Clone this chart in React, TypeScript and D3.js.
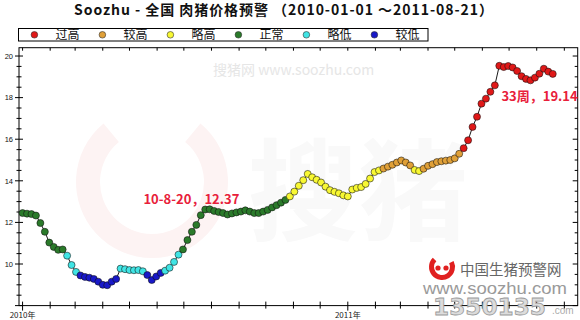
import React from 'react';
import * as d3 from 'd3';

// ---------- data ----------
const startDate = '2010-01-01';
const stepDays = 5;
const prices: number[] = [
  12.45, 12.42, 12.40, 12.33, 11.97, 11.55, 11.03, 10.82, 10.68, 10.70,
  10.40, 9.95, 9.62, 9.45, 9.38, 9.34, 9.28, 9.15, 9.00, 8.98,
  9.15, 9.28, 9.78, 9.75, 9.71, 9.70, 9.71, 9.65, 9.47, 9.23,
  9.40, 9.57, 9.68, 9.82, 10.10, 10.45, 10.70, 11.15, 11.55, 11.88,
  12.35, 12.62, 12.63, 12.55, 12.50, 12.45, 12.38, 12.43, 12.48, 12.52,
  12.58, 12.52, 12.45, 12.45, 12.52, 12.60, 12.72, 12.83, 12.95, 13.08,
  13.25, 13.48, 13.76, 14.03, 14.33, 14.17, 14.05, 13.92, 13.72, 13.55,
  13.47, 13.40, 13.30, 13.25, 13.58, 13.66, 13.70, 13.85, 14.11, 14.42,
  14.50, 14.59, 14.68, 14.77, 14.88, 14.98, 14.88, 14.74, 14.52, 14.47,
  14.58, 14.72, 14.80, 14.90, 14.94, 14.97, 15.00, 15.08, 15.30, 15.57,
  15.95, 16.59, 17.08, 17.71, 17.95, 18.28, 18.59, 19.53, 19.47, 19.52,
  19.45, 19.28, 19.03, 18.90, 18.83, 18.96, 19.15, 19.39, 19.25, 19.14,
];
const levelNames = ['过高', '较高', '略高', '正常', '略低', '较低'];
const levelColors = ['#e01818', '#e0a038', '#f8f832', '#2a7a2a', '#40e4e4', '#1818c8'];
const levelThresholds = [15.5, 14.55, 13.1, 10.5, 9.6, -Infinity];
const yTickValues = [10, 12, 14, 16, 18, 20];
const yearLabelSuffix = '年';
const annotationDates = ['2010-08-20', '2011-08-21'];
const annotationValues = [12.37, 19.14];
const annotationTexts = ['10-8-20，12.37', '33周，19.14'];
const titleText = 'Soozhu - 全国 肉猪价格预警 （2010-01-01 ～2011-08-21）';

// ---------- layout ----------
const W = 580, H = 320;
const L = 19, R = 577.7, T = 47.7, B = 305.6;
const FONT = '"Liberation Sans", Arial, "Noto Sans CJK SC", sans-serif';
const CJK = '"Noto Sans CJK SC", "Liberation Sans", sans-serif';

const parse = d3.timeParse('%Y-%m-%d');

function levelOf(v: number) {
  for (let i = 0; i < levelThresholds.length; i++) if (v >= levelThresholds[i]) return i;
  return levelThresholds.length - 1;
}

export default function App() {
  const start = parse(startDate)!;
  const data = prices.map((v, i) => ({ date: d3.timeDay.offset(start, i * stepDays), v }));

  const x = d3.scaleTime()
    .domain([d3.timeDay.offset(start, -4), d3.timeDay.offset(start, 623)])
    .range([L, R]);
  const y = d3.scaleLinear().domain([8, 20.4]).range([B, T]);

  const months = d3.timeMonth.range(x.domain()[0], x.domain()[1]);
  const years = d3.timeYear.range(x.domain()[0], x.domain()[1]);
  const minorY = d3.range(8, 20.41, 0.5);

  const line = d3.line<{ date: Date; v: number }>().x(d => x(d.date)).y(d => y(d.v));

  const legendX0 = 34.4, legendDX = 68;

  const ann = annotationDates.map((d, i) => ({
    px: x(parse(d)!), py: y(annotationValues[i]), text: annotationTexts[i],
  }));

  const ring = d3.arc()({ innerRadius: 52, outerRadius: 76, startAngle: Math.PI * 0.22, endAngle: Math.PI * 1.78 }) as string;
  const logoArc = d3.arc()({ innerRadius: 8, outerRadius: 13, startAngle: Math.PI * 0.35, endAngle: Math.PI * 1.75 }) as string;

  return (
    <svg width={W} height={H} style={{ position: 'absolute', left: 0, top: 0, background: '#fff' }}
      xmlns="http://www.w3.org/2000/svg">
      <rect x={0} y={0} width={W} height={H} fill="#fff" />
      {/* title */}
      <text x={74} y={15} fontFamily={CJK} fontWeight="bold" fontSize={14} fill="#111"
        textLength={419} lengthAdjust="spacing">
        {titleText}
      </text>
      {/* legend */}
      <rect x={18.5} y={28.5} width={409.5} height={12.5} fill="#fff" stroke="#000" strokeWidth={1} />
      {levelNames.map((n, i) => (
        <g key={n}>
          <circle cx={legendX0 + i * legendDX} cy={34.8} r={3.3} fill={levelColors[i]} stroke="#333" strokeWidth={0.6} />
          <text x={legendX0 + i * legendDX + 21} y={39.2} fontFamily={CJK} fontSize={12} fill="#111">{n}</text>
        </g>
      ))}

      {/* watermarks */}
      <g transform="translate(152,182)">
        <path d={ring} fill="#fdf3f3" />
      </g>
      <text x={248} y={232} fontFamily={CJK} fontSize={110} fontWeight="bold" fill="#f9f9f9">搜猪</text>
      <text x={213} y={75} fontFamily={CJK} fontSize={14} fill="#e6e6e6">搜猪网  www.soozhu.com</text>

      {/* frame */}
      <rect x={L} y={T} width={R - L} height={B - T} fill="none" stroke="#000" strokeWidth={1} />
      {/* y ticks */}
      {minorY.map(v => {
        const major = Math.abs(v - Math.round(v)) < 1e-6 && Math.round(v) % 2 === 0;
        const yy = y(v);
        return (
          <g key={'y' + v}>
            <line x1={L - (major ? 4 : 2.5)} x2={L + (major ? 4 : 2.5)} y1={yy} y2={yy} stroke="#000" strokeWidth={1} />
            <line x1={R - (major ? 5 : 3)} x2={R} y1={yy} y2={yy} stroke="#000" strokeWidth={1} />
          </g>
        );
      })}
      {yTickValues.map(v => (
        <text key={'yl' + v} x={13} y={y(v) + 2.8} textAnchor="end" fontFamily={FONT} fontSize={7.5} fill="#111">{v}</text>
      ))}
      {/* x ticks */}
      {months.map(m => {
        const xx = x(m);
        const isYear = m.getMonth() === 0;
        return (
          <g key={'m' + m.getTime()}>
            <line x1={xx} x2={xx} y1={B - 4} y2={B + (isYear ? 5 : 3)} stroke="#000" strokeWidth={1} />
            <line x1={xx} x2={xx} y1={T} y2={T + 3} stroke="#000" strokeWidth={1} />
          </g>
        );
      })}
      {years.map(yr => (
        <text key={'yr' + yr.getTime()} x={x(yr)} y={318} textAnchor="middle" fontFamily={CJK} fontSize={8} fill="#222">
          {yr.getFullYear() + yearLabelSuffix}
        </text>
      ))}

      {/* data */}
      <path d={line(data)!} fill="none" stroke="#000" strokeWidth={0.9} />
      {data.map((d, i) => (
        <circle key={'p' + i} cx={x(d.date)} cy={y(d.v)} r={3.5}
          fill={levelColors[levelOf(d.v)]} stroke="#111" strokeOpacity={0.8} strokeWidth={0.7} />
      ))}

      {/* annotations */}
      <text x={ann[0].px - 37} y={ann[0].py - 10.5} textAnchor="middle" fontFamily={CJK} fontWeight="bold" fontSize={13} fill="#e8203a">
        {ann[0].text}
      </text>
      <text x={ann[1].px - 15} y={ann[1].py + 27} textAnchor="middle" fontFamily={CJK} fontWeight="bold" fontSize={13} fill="#e8203a">
        {ann[1].text}
      </text>

      {/* bottom-right logo */}
      <g transform="translate(442,267)">
        <path d={logoArc} fill="#e02020" />
        <circle cx={-4} cy={1} r={2.6} fill="#e02020" />
        <circle cx={4} cy={1} r={2.6} fill="#e02020" />
      </g>
      <text x={460} y={275} fontFamily={CJK} fontSize={14.5} fill="#666">中国生猪预警网</text>
      <text x={423} y={294} fontFamily={FONT} fontSize={17} fill="#9a9a9a" textLength={144} lengthAdjust="spacingAndGlyphs">www.soozhu.com</text>
      <text x={433} y={315} fontFamily='"DejaVu Sans", sans-serif' fontWeight="bold" fontSize={23} fill="#dcdcdc" stroke="#9a9a9a" strokeWidth={0.8}
        textLength={113} lengthAdjust="spacingAndGlyphs">1350135</text>
      <text x={552} y={314} fontFamily={FONT} fontSize={10} fill="#aaa">.com</text>
    </svg>
  );
}
